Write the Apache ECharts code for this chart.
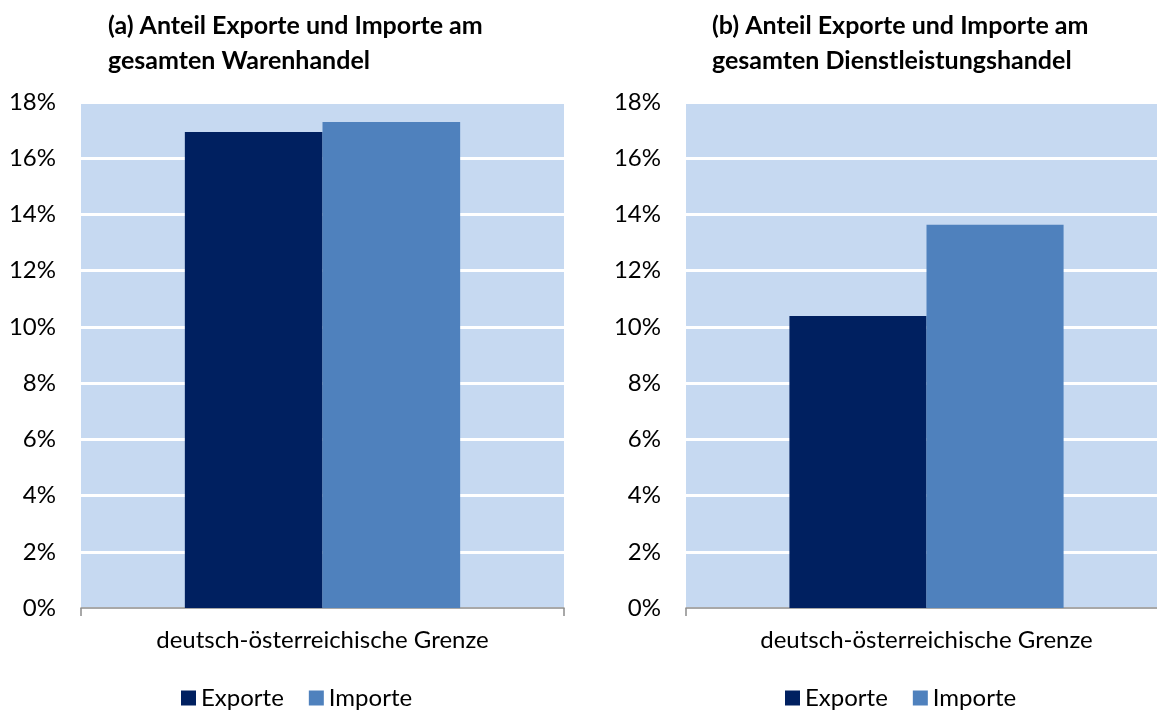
<!DOCTYPE html>
<html>
<head>
<meta charset="utf-8">
<script src="https://cdn.jsdelivr.net/npm/echarts@6/dist/echarts.min.js"></script>
<style>
  html, body { margin: 0; padding: 0; background: #fff; overflow: hidden; }
  /* a little wider than the window: panel (b) runs off the right edge */
  #chart { width: 1167px; height: 711px; }
</style>
</head>
<body>
<div id="chart"></div>
<script>
const categories = ["deutsch-österreichische Grenze"];
const seriesNames = ["Exporte", "Importe"];
const warenExporte = [16.93];
const warenImporte = [17.29];
const dienstExporte = [10.39];
const dienstImporte = [13.63];
const yTicks = { min: 0, max: 18, interval: 2 };
const titles = [
  "(a) Anteil Exporte und Importe am\ngesamten Warenhandel",
  "(b) Anteil Exporte und Importe am\ngesamten Dienstleistungshandel",
];

const font = "Lato, 'Open Sans', sans-serif";
const colors = ["#002060", "#4F81BD"];

const chart = echarts.init(document.getElementById("chart"));

const makeX = (gridIndex) => ({
  type: "category",
  gridIndex: gridIndex,
  data: categories,
  axisLine: { lineStyle: { color: "#8c8c8c", width: 1.5 } },
  axisTick: { show: true, length: 8, lineStyle: { color: "#8c8c8c", width: 1.5 } },
  axisLabel: { color: "#000", fontSize: 24, fontFamily: font, margin: 20 },
});

const makeY = (gridIndex) => ({
  type: "value",
  gridIndex: gridIndex,
  min: yTicks.min,
  max: yTicks.max,
  interval: yTicks.interval,
  axisLine: { show: false },
  axisTick: { show: false },
  axisLabel: { formatter: "{value}%", color: "#000", fontSize: 24, fontFamily: font, margin: 25 },
  splitLine: { lineStyle: { color: "#ffffff", width: 3 } },
});

const makeBar = (name, data, idx, color) => ({
  name: name,
  type: "bar",
  xAxisIndex: idx,
  yAxisIndex: idx,
  data: data,
  barGap: "0%",
  barCategoryGap: "43%",
  itemStyle: { color: color },
});

const option = {
  animation: false,
  title: titles.map((t, i) => ({
    text: t,
    left: i == 0 ? 103 : 707,
    top: 3,
    textStyle: { fontSize: 25, fontWeight: "bold", fontFamily: font, color: "#000", lineHeight: 35 },
  })),
  legend: [
    { left: 176, top: 681 },
    { left: 780, top: 681 },
  ].map((l) => ({
    ...l,
    data: seriesNames,
    icon: "rect",
    itemWidth: 15,
    itemHeight: 15,
    itemGap: 25,
    selectedMode: false,
    textStyle: { fontSize: 24, fontFamily: font, color: "#000" },
  })),
  grid: [
    { left: 81, width: 483, top: 102, bottom: 103, show: true, backgroundColor: "#C6D9F1", borderWidth: 0 },
    { left: 686, width: 481, top: 102, bottom: 103, show: true, backgroundColor: "#C6D9F1", borderWidth: 0 },
  ],
  xAxis: [makeX(0), makeX(1)],
  yAxis: [makeY(0), makeY(1)],
  series: [
    makeBar(seriesNames[0], warenExporte, 0, colors[0]),
    makeBar(seriesNames[1], warenImporte, 0, colors[1]),
    makeBar(seriesNames[0], dienstExporte, 1, colors[0]),
    makeBar(seriesNames[1], dienstImporte, 1, colors[1]),
  ],
};

chart.setOption(option);
</script>
</body>
</html>
